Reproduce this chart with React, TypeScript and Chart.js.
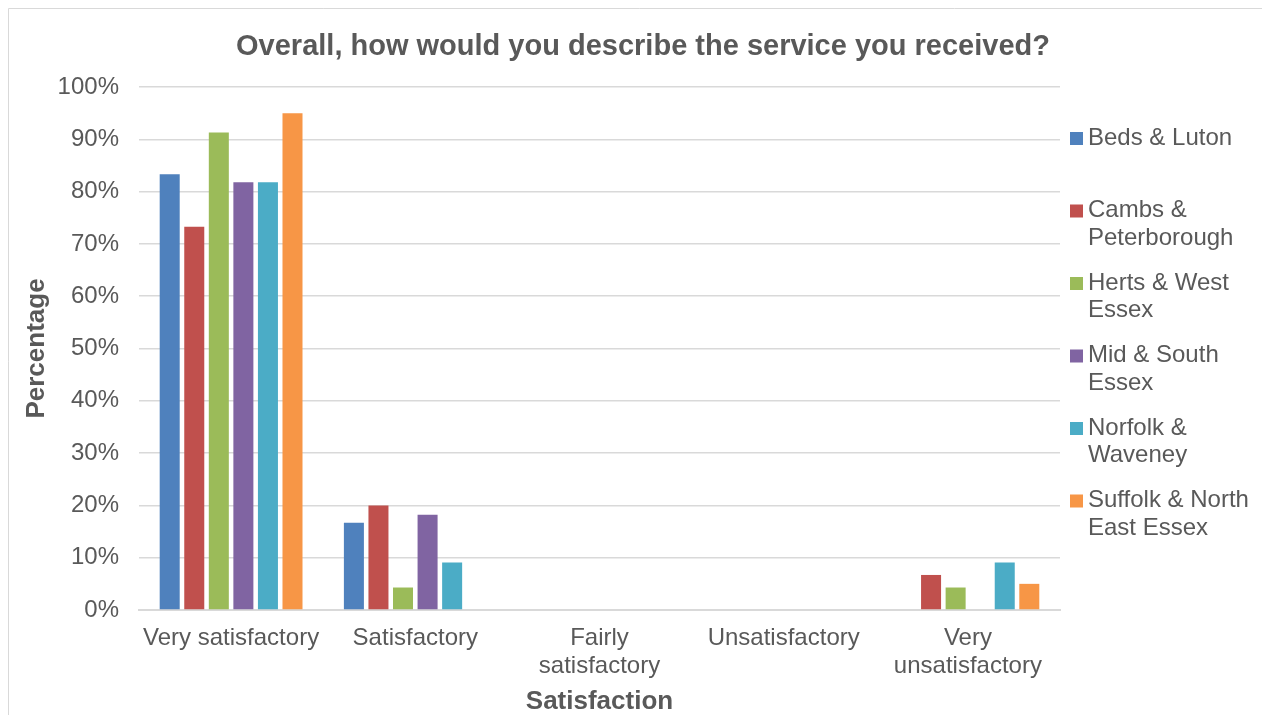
import React, { useEffect, useRef } from "react";
import { Chart, registerables } from "chart.js";

Chart.register(...registerables);

const categories: (string | string[])[] = [
  "Very satisfactory",
  "Satisfactory",
  ["Fairly", "satisfactory"],
  "Unsatisfactory",
  ["Very", "unsatisfactory"],
];

const seriesNames = [
  "Beds & Luton",
  "Cambs & Peterborough",
  "Herts & West Essex",
  "Mid & South Essex",
  "Norfolk & Waveney",
  "Suffolk & North East Essex",
];

const legendLines: string[][] = [
  ["Beds & Luton"],
  ["Cambs &", "Peterborough"],
  ["Herts & West", "Essex"],
  ["Mid & South", "Essex"],
  ["Norfolk &", "Waveney"],
  ["Suffolk & North", "East Essex"],
];

const bedsLuton = [83.3, 16.7, 0, 0, 0];
const cambsPeterborough = [73.3, 20.0, 0, 0, 6.7];
const hertsWestEssex = [91.3, 4.3, 0, 0, 4.3];
const midSouthEssex = [81.8, 18.2, 0, 0, 0];
const norfolkWaveney = [81.8, 9.1, 0, 0, 9.1];
const suffolkNEEssex = [95.0, 0, 0, 0, 5.0];

const seriesValues = [
  bedsLuton,
  cambsPeterborough,
  hertsWestEssex,
  midSouthEssex,
  norfolkWaveney,
  suffolkNEEssex,
];

const colors = ["#4f81bd", "#c0504d", "#9bbb59", "#8064a2", "#4bacc6", "#f79646"];

const FONT = "'Liberation Sans', Arial, sans-serif";
const TEXT = "#595959";

export default function App() {
  const ref = useRef<HTMLCanvasElement>(null);

  useEffect(() => {
    if (!ref.current) return;
    const overlay = {
      id: "overlay",
      afterDraw(chart: any) {
        const ctx = chart.ctx;
        ctx.save();
        // chart border
        ctx.strokeStyle = "#d9d9d9";
        ctx.lineWidth = 1;
        ctx.beginPath();
        ctx.moveTo(0.5, chart.height);
        ctx.lineTo(0.5, 0.5);
        ctx.lineTo(chart.width, 0.5);
        ctx.stroke();
        ctx.fillStyle = TEXT;
        ctx.font = `bold 29px ${FONT}`;
        ctx.textAlign = "center";
        ctx.textBaseline = "middle";
        ctx.fillText("Overall, how would you describe the service you received?", 635, 39);
        // legend
        ctx.font = `24px ${FONT}`;
        ctx.textAlign = "left";
        legendLines.forEach((lines, i) => {
          const y0 = 130 + i * 72.5;
          ctx.fillStyle = colors[i];
          ctx.fillRect(1062, y0 - 6, 13, 13);
          ctx.fillStyle = TEXT;
          lines.forEach((l, j) => ctx.fillText(l, 1080, y0 + j * 27.5));
        });
        ctx.restore();
      },
    };
    const chart = new Chart(ref.current, {
      type: "bar",
      data: {
        labels: categories,
        datasets: seriesNames.map((n, i) => ({
          label: n,
          data: seriesValues[i],
          backgroundColor: colors[i],
          categoryPercentage: 0.8,
          barPercentage: 0.815,
        })),
      },
      options: {
        animation: false,
        responsive: false,
        layout: { padding: { top: 79, right: 210, left: 0, bottom: 0 } },
        plugins: { legend: { display: false }, title: { display: false }, tooltip: { enabled: false } },
        scales: {
          x: {
            grid: { display: false, drawTicks: false },
            border: { display: true, color: "#d9d9d9", width: 2 },
            ticks: { color: TEXT, font: { family: FONT, size: 24, lineHeight: 1.17 }, padding: 14, maxRotation: 0, autoSkip: false },
            title: { display: true, text: "Satisfaction", color: TEXT, font: { family: FONT, size: 26, weight: "bold" }, padding: { top: 0, bottom: -2 } },
            afterFit: (s: any) => { s.height = 105; },
          },
          y: {
            min: 0,
            max: 100,
            grid: { color: "#d9d9d9", lineWidth: 1.5, drawTicks: false },
            border: { display: false },
            ticks: { stepSize: 10, color: TEXT, font: { family: FONT, size: 24 }, padding: 20, callback: (v: any) => v + "%" },
            title: { display: true, text: "Percentage", color: TEXT, font: { family: FONT, size: 26, weight: "bold" }, padding: { top: 13, bottom: 0 } },
            afterFit: (s: any) => { s.width = 131; },
          },
        },
      },
      plugins: [overlay],
    } as any);
    return () => chart.destroy();
  }, []);

  return (
    <div style={{ width: 1262, height: 707 }}>
      <canvas ref={ref} width={1262} height={707} style={{ display: "block" }} />
    </div>
  );
}
